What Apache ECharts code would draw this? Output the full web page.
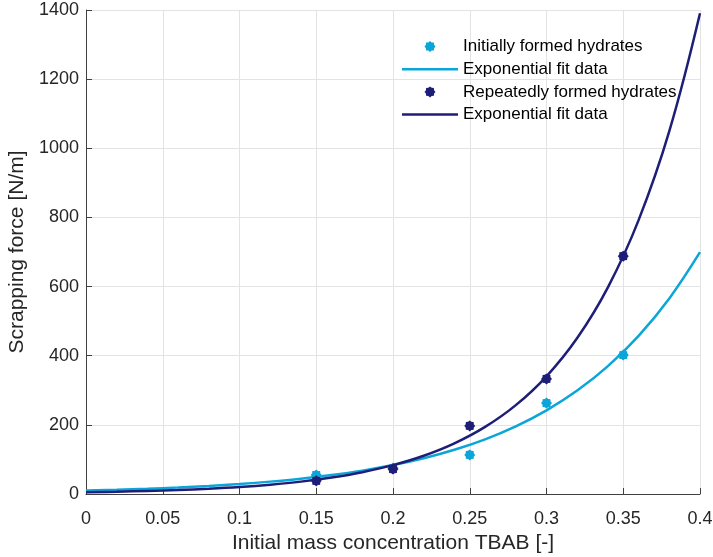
<!DOCTYPE html>
<html>
<head>
<meta charset="utf-8">
<script src="https://cdn.jsdelivr.net/npm/echarts@6/dist/echarts.min.js"></script>
<style>
  html, body { margin: 0; padding: 0; background: #fff; }
  #chart { width: 713px; height: 557px; }
</style>
</head>
<body>
<div id="chart"></div>
<script>
// Measured scrapping force at each TBAB concentration
const concentrations = [0.15, 0.2, 0.25, 0.3, 0.35];
const initialForce = [55, 75, 113, 263, 402];
const repeatedForce = [38, 72, 197, 333, 688];

// Exponential fit curves, sampled along the concentration axis
const fitX = [0, 0.02, 0.04, 0.06, 0.08, 0.1, 0.12, 0.14, 0.16, 0.18, 0.2,
              0.22, 0.24, 0.26, 0.28, 0.3, 0.32, 0.34, 0.36, 0.38, 0.4];
const initialFit = [10, 12.4, 15.3, 18.9, 23.4, 28.9, 35.8, 44.2, 54.7, 67.6, 83.6,
                    103.4, 127.9, 158.2, 195.6, 241.9, 299.1, 369.9, 457.5, 565.8, 699.6];
const repeatedFit = [5, 6.6, 8.8, 11.6, 15.4, 20.4, 27.1, 35.8, 47.5, 62.9, 83.4,
                     110.5, 146.4, 194, 257, 340.5, 451.2, 597.8, 792.2, 1049.6, 1390.6];

const lightBlue = '#0ba6d9';
const navy = '#1e1e78';
const textColor = '#262626';
const font = 'Liberation Sans, Arial, sans-serif';

// eight-pointed asterisk marker
const starPath = 'path://M20,10L17.39,13.06L17.07,17.07L13.06,17.39L10,20L6.94,17.39L2.93,17.07L2.61,13.06L0,10L2.61,6.94L2.93,2.93L6.94,2.61L10,0L13.06,2.61L17.07,2.93L17.39,6.94Z';
// flat bar used as the legend swatch of the fit lines
const lineIcon = 'path://M0,0L56,0L56,2.5L0,2.5Z';

const pairs = (xs, ys) => xs.map((x, i) => [x, ys[i]]);

const chart = echarts.init(document.getElementById('chart'), null, { renderer: 'canvas' });
chart.setOption({
  animation: false,
  backgroundColor: '#fff',
  textStyle: { fontFamily: font, color: textColor },
  grid: { left: 86, right: 13, top: 10, bottom: 63, containLabel: false, outerBoundsMode: 'none' },
  legend: {
    orient: 'vertical',
    left: 397,
    top: 33,
    itemWidth: 56,
    itemHeight: 11,
    itemGap: 5.7,
    textStyle: { fontSize: 17, color: '#000', fontFamily: font },
    data: [
      { name: 'Initially formed hydrates' },
      { name: 'Exponential fit data', icon: lineIcon },
      { name: 'Repeatedly formed hydrates' },
      { name: 'Exponential fit data\u200b', icon: lineIcon }
    ]
  },
  xAxis: {
    type: 'value',
    min: 0,
    max: 0.4,
    interval: 0.05,
    name: 'Initial mass concentration TBAB [-]',
    nameLocation: 'middle',
    nameGap: 39,
    nameTextStyle: { fontSize: 21, color: textColor },
    axisLine: { show: true, lineStyle: { color: '#404040', width: 1 } },
    axisTick: { show: true, inside: true, length: 6, lineStyle: { color: '#404040' } },
    axisLabel: {
      fontSize: 18, color: textColor, margin: 16,
      formatter: v => String(+v.toFixed(2))
    },
    splitLine: { show: true, lineStyle: { color: '#e3e3e3', width: 1 } }
  },
  yAxis: {
    type: 'value',
    min: 0,
    max: 1400,
    interval: 200,
    name: 'Scrapping force [N/m]',
    nameLocation: 'middle',
    nameGap: 48,
    nameTextStyle: { fontSize: 21, color: textColor },
    axisLine: { show: true, lineStyle: { color: '#404040', width: 1 } },
    axisTick: { show: true, inside: true, length: 6, lineStyle: { color: '#404040' } },
    axisLabel: { fontSize: 18, color: textColor, margin: 7, formatter: v => String(v) },
    splitLine: { show: true, lineStyle: { color: '#e3e3e3', width: 1 } }
  },
  series: [
    {
      name: 'Initially formed hydrates',
      type: 'scatter',
      symbol: starPath,
      symbolSize: 11,
      itemStyle: { color: lightBlue, opacity: 1 },
      data: pairs(concentrations, initialForce),
      z: 3
    },
    {
      name: 'Exponential fit data',
      type: 'line',
      smooth: 0.4,
      showSymbol: false,
      lineStyle: { color: lightBlue, width: 2.5 },
      itemStyle: { color: lightBlue },
      data: pairs(fitX, initialFit),
      z: 4
    },
    {
      name: 'Repeatedly formed hydrates',
      type: 'scatter',
      symbol: starPath,
      symbolSize: 11,
      itemStyle: { color: navy, opacity: 1 },
      data: pairs(concentrations, repeatedForce),
      z: 5
    },
    {
      name: 'Exponential fit data\u200b',
      type: 'line',
      smooth: 0.4,
      showSymbol: false,
      lineStyle: { color: navy, width: 2.5 },
      itemStyle: { color: navy },
      data: pairs(fitX, repeatedFit),
      z: 6
    }
  ]
});
</script>
</body>
</html>
